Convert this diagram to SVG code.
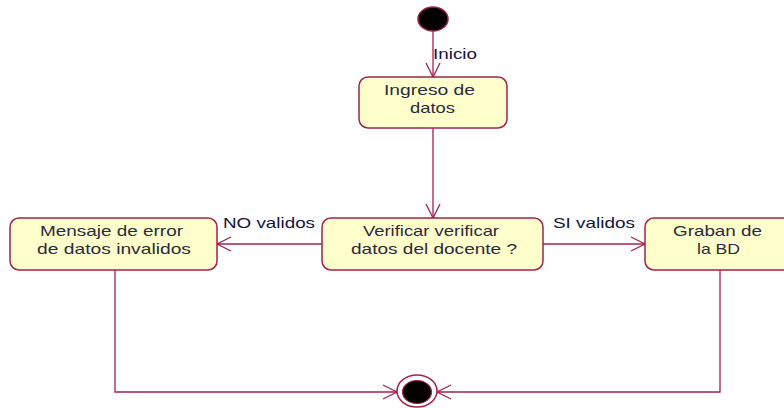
<svg xmlns="http://www.w3.org/2000/svg" width="784" height="408" viewBox="0 0 784 408">
<defs>
<style>
.box{fill:#FFFFCC;stroke:#A3224E;stroke-width:1.5}
.ln{fill:none;stroke:#A3224E;stroke-width:1.3}
.t{font-family:"Liberation Sans",Arial,sans-serif;font-size:15px;fill:#2a2a40}
.lb{font-family:"Liberation Sans",Arial,sans-serif;font-size:15px;fill:#14143c}
</style>
<marker id="arr" markerUnits="userSpaceOnUse" markerWidth="20" markerHeight="20" refX="16" refY="8" orient="auto" overflow="visible">
<path d="M2,1 L16,8 L2,15" fill="none" stroke="#A3224E" stroke-width="1.3"/>
<circle cx="16" cy="8" r="1.6" fill="#A3224E"/>
</marker>
</defs>
<rect width="784" height="408" fill="#ffffff"/>
<g id="connectors">
<line class="ln" x1="433" y1="31" x2="433" y2="77" marker-end="url(#arr)"/>
<line class="ln" x1="433" y1="128" x2="433" y2="218" marker-end="url(#arr)"/>
<line class="ln" x1="322" y1="244" x2="217" y2="244" marker-end="url(#arr)"/>
<line class="ln" x1="543" y1="244" x2="645" y2="244" marker-end="url(#arr)"/>
<polyline class="ln" points="115,270 115,392 397,392" marker-end="url(#arr)"/>
<polyline class="ln" points="720,270 720,392 437,392" marker-end="url(#arr)"/>
<text class="lb" x="433" y="59" textLength="44" lengthAdjust="spacingAndGlyphs">Inicio</text>
<text class="lb" x="223" y="228" textLength="92" lengthAdjust="spacingAndGlyphs">NO validos</text>
<text class="lb" x="553" y="228" textLength="82" lengthAdjust="spacingAndGlyphs">SI validos</text>
</g>
<g id="start">
<ellipse cx="433" cy="19" rx="15" ry="12" fill="#000" stroke="#A3224E" stroke-width="1.5"/>
</g>
<g id="ingreso">
<rect class="box" x="359" y="77" width="148" height="51" rx="9"/>
<text class="t" x="384" y="95" textLength="91" lengthAdjust="spacingAndGlyphs">Ingreso de</text>
<text class="t" x="410" y="113" textLength="45" lengthAdjust="spacingAndGlyphs">datos</text>
</g>
<g id="verificar">
<rect class="box" x="322" y="218" width="221" height="52" rx="9"/>
<text class="t" x="363" y="236" textLength="136" lengthAdjust="spacingAndGlyphs">Verificar verificar</text>
<text class="t" x="351" y="254" textLength="166" lengthAdjust="spacingAndGlyphs">datos del docente ?</text>
</g>
<g id="mensaje">
<rect class="box" x="10" y="218" width="207" height="52" rx="9"/>
<text class="t" x="40" y="236" textLength="143" lengthAdjust="spacingAndGlyphs">Mensaje de error</text>
<text class="t" x="37" y="254" textLength="154" lengthAdjust="spacingAndGlyphs">de datos invalidos</text>
</g>
<g id="graban">
<rect class="box" x="645" y="218" width="150" height="52" rx="9"/>
<text class="t" x="673" y="236" textLength="89" lengthAdjust="spacingAndGlyphs">Graban de</text>
<text class="t" x="697" y="254" textLength="43" lengthAdjust="spacingAndGlyphs">la BD</text>
</g>
<g id="final">
<ellipse cx="417" cy="391" rx="20" ry="16" fill="#fff" stroke="#A3224E" stroke-width="1.5"/>
<ellipse cx="417" cy="392" rx="14.5" ry="11.5" fill="#000" stroke="#A3224E" stroke-width="1.2"/>
</g>
</svg>
